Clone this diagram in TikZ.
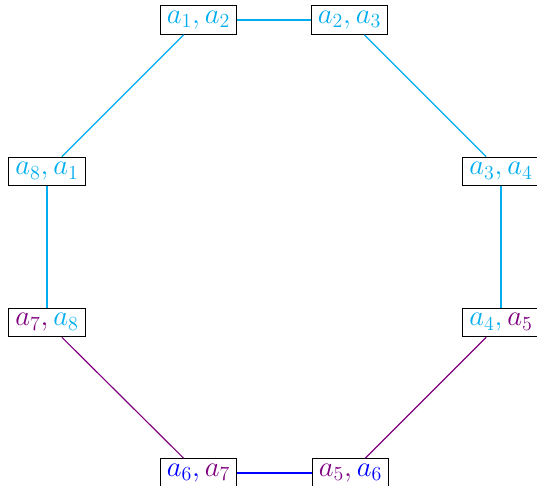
\documentclass[tikz,border=0pt]{standalone}
\definecolor{cy}{RGB}{0,174,239}
\definecolor{vi}{RGB}{128,0,128}
\definecolor{bl}{RGB}{0,0,255}
\tikzset{
  pair/.style={draw=black, line width=0.6pt, fill=white, font=\LARGE, inner xsep=4pt, inner ysep=3.2pt},
  cyedge/.style={draw=cy, line width=0.7pt},
  viedge/.style={draw=vi, line width=0.7pt},
  bledge/.style={draw=bl, line width=0.7pt}
}
\begin{document}
\begin{tikzpicture}[x=0.6pt,y=-0.6pt]
\useasboundingbox (0,0) rectangle (537,486);
\node[pair] (n12) at (198.5,20)  {$\color{cy}a_1, a_2$};
\node[pair] (n23) at (349.5,20)  {$\color{cy}a_2, a_3$};
\node[pair] (n34) at (501,171.5) {$\color{cy}a_3, a_4$};
\node[pair] (n45) at (501,322.5) {$\color{cy}a_4,\color{vi}a_5$};
\node[pair] (n56) at (350.5,473) {$\color{vi}a_5,\color{bl}a_6$};
\node[pair] (n67) at (198.5,473) {$\color{bl}a_6,\color{vi}a_7$};
\node[pair] (n78) at (47,322.5) {$\color{vi}a_7,\color{cy}a_8$};
\node[pair] (n81) at (47,171.5) {$\color{cy}a_8, a_1$};
\draw[cyedge] (n12) -- (n23);
\draw[cyedge] (n23) -- (n34);
\draw[cyedge] (n34) -- (n45);
\draw[viedge] (n45) -- (n56);
\draw[bledge] (n56) -- (n67);
\draw[viedge] (n67) -- (n78);
\draw[cyedge] (n78) -- (n81);
\draw[cyedge] (n81) -- (n12);
\end{tikzpicture}
\end{document}
